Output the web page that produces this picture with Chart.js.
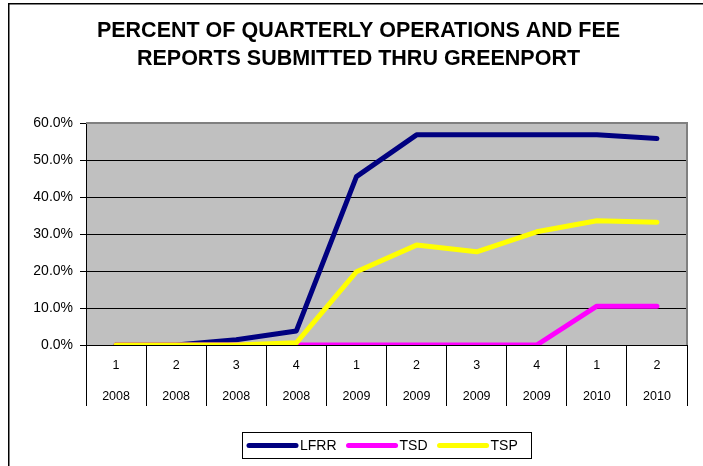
<!DOCTYPE html>
<html>
<head>
<meta charset="utf-8">
<script src="https://cdn.jsdelivr.net/npm/chart.js@4/dist/chart.umd.min.js"></script>
<style>
html,body{margin:0;padding:0;background:#fff;}
canvas{display:block;}
</style>
</head>
<body>
<canvas id="c" width="703" height="466"></canvas>
<script>
const quarters = ['1','2','3','4','1','2','3','4','1','2'];
const years = ['2008','2008','2008','2008','2009','2009','2009','2009','2010','2010'];
const lfrr = [0, 0, 1.4, 3.8, 45.5, 56.8, 56.8, 56.8, 56.8, 55.8];
const tsd = [0, 0, 0, 0, 0, 0, 0, 0, 10.5, 10.5];
const tsp = [0, 0, 0, 0.6, 19.8, 27.0, 25.2, 30.6, 33.6, 33.2];
const seriesNames = ['LFRR', 'TSD', 'TSP'];
const seriesColors = ['#000080', '#FF00FF', '#FFFF00'];
const titleLines = ['PERCENT OF QUARTERLY OPERATIONS AND FEE', 'REPORTS SUBMITTED THRU GREENPORT'];
const yTicks = [0, 10, 20, 30, 40, 50, 60];

const FONT = "'Liberation Sans', Arial, sans-serif";

const categories = quarters.map((q, i) => [q, years[i]]);

const bgPlugin = {
  id: 'bg',
  beforeDraw(chart) {
    const {ctx, chartArea: a} = chart;
    ctx.save();
    ctx.fillStyle = '#C0C0C0';
    ctx.fillRect(a.left, a.top, a.right - a.left, a.bottom - a.top);
    ctx.restore();
  },
  beforeDatasetsDraw(chart) {
    const {ctx, chartArea: a} = chart;
    ctx.save();
    ctx.strokeStyle = '#808080';
    ctx.lineWidth = 2;
    ctx.beginPath();
    ctx.moveTo(a.left, a.top);
    ctx.lineTo(a.right, a.top);
    ctx.lineTo(a.right, a.bottom);
    ctx.stroke();
    ctx.restore();
  },
  afterDraw(chart) {
    const {ctx} = chart;
    ctx.save();
    // outer frame
    ctx.strokeStyle = '#000';
    ctx.lineWidth = 1.5;
    ctx.strokeRect(8.75, 3.75, 800, 800);
    // legend
    const bx = 242, by = 432, bw = 289, bh = 26;
    ctx.lineWidth = 1;
    ctx.strokeStyle = '#000';
    ctx.strokeRect(bx + 0.5, by + 0.5, bw, bh);
    ctx.font = '14px ' + FONT;
    ctx.textBaseline = 'middle';
    ctx.textAlign = 'left';
    let x = 247;
    const cy = by + 13.5;
    chart.data.datasets.forEach((ds) => {
      ctx.strokeStyle = ds.borderColor;
      ctx.lineWidth = 5;
      ctx.lineCap = 'round';
      ctx.beginPath();
      ctx.moveTo(x + 2, cy);
      ctx.lineTo(x + 49, cy);
      ctx.stroke();
      ctx.fillStyle = '#000';
      ctx.fillText(ds.label, x + 53, cy + 1);
      x += 53 + ctx.measureText(ds.label).width + 10;
    });
    ctx.restore();
  }
};

new Chart(document.getElementById('c'), {
  type: 'line',
  data: {
    labels: categories,
    datasets: [
      {label: seriesNames[0], data: lfrr, borderColor: seriesColors[0], order: 2},
      {label: seriesNames[1], data: tsd, borderColor: seriesColors[1], order: 1},
      {label: seriesNames[2], data: tsp, borderColor: seriesColors[2], order: 0}
    ].map(d => Object.assign(d, {
      backgroundColor: d.borderColor,
      borderWidth: 5,
      pointRadius: 0,
      pointHoverRadius: 0,
      tension: 0,
      fill: false,
      borderCapStyle: 'round',
      borderJoinStyle: 'round'
    }))
  },
  options: {
    responsive: false,
    animation: false,
    devicePixelRatio: 1,
    layout: {padding: {left: 30, right: 16, top: 0, bottom: 0}},
    plugins: {
      legend: {display: false},
      tooltip: {enabled: false},
      title: {
        display: true,
        text: titleLines,
        color: '#000',
        font: {family: FONT, size: 21.5, weight: 'bold', lineHeight: 28 / 21.5},
        padding: {top: 17, bottom: 50}
      }
    },
    scales: {
      x: {
        offset: true,
        grid: {offset: true, drawOnChartArea: false, drawTicks: true, tickLength: 61, color: '#000', lineWidth: 1},
        border: {display: true, color: '#000', width: 1},
        ticks: {autoSkip: false, maxRotation: 0, minRotation: 0, color: '#000',
          font: {family: FONT, size: 12.5, lineHeight: 31 / 12.5}, padding: -55.5},
        afterFit(s) { s.height = 121; }
      },
      y: {
        min: 0, max: 60,
        afterBuildTicks(s) { s.ticks = yTicks.map(v => ({value: v})); },
        ticks: {color: '#000', font: {family: FONT, size: 14}, padding: 7,
          callback: v => v.toFixed(1) + '%'},
        grid: {color: '#000', lineWidth: 1, drawTicks: true, tickLength: 6},
        border: {display: true, color: '#000', width: 1},
        afterFit(s) { s.width = 56; }
      }
    }
  },
  plugins: [bgPlugin]
});
</script>
</body>
</html>
